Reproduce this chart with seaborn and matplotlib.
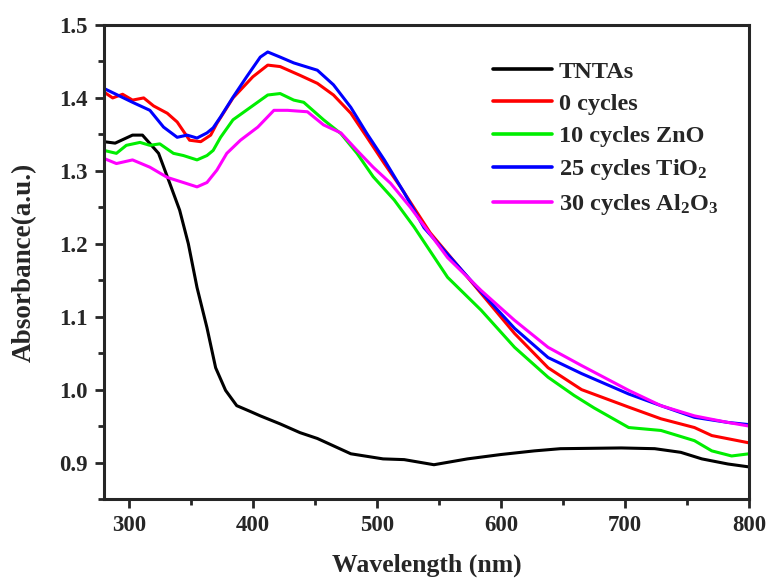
import numpy as np
import pandas as pd
import matplotlib
matplotlib.use("Agg")
import matplotlib.pyplot as plt
import seaborn as sns
from matplotlib.ticker import MultipleLocator

# ---- data ----
wl_tntas = [280, 289, 303, 311, 324, 333, 341, 348, 355, 363, 370, 378, 387, 398, 406, 422,
            438, 452, 479, 505, 522, 546, 573, 600, 627, 648, 697, 724, 745, 762, 783, 800]
abs_tntas = [1.340, 1.338, 1.349, 1.349, 1.324, 1.283, 1.246, 1.200, 1.140, 1.085, 1.030, 0.999,
             0.978, 0.970, 0.964, 0.953, 0.941, 0.933, 0.912, 0.905, 0.904, 0.897, 0.905, 0.911,
             0.916, 0.919, 0.920, 0.919, 0.914, 0.905, 0.898, 0.894]

wl_0 = [280, 287, 295, 303, 312, 320, 331, 339, 349, 358, 366, 371, 384, 400, 412, 422, 438,
        452, 465, 479, 492, 506, 519, 543, 584, 611, 638, 665, 703, 729, 756, 770, 800]
abs_0 = [1.408, 1.400, 1.405, 1.397, 1.400, 1.389, 1.379, 1.367, 1.342, 1.340, 1.349, 1.365,
         1.400, 1.429, 1.445, 1.443, 1.431, 1.420, 1.404, 1.379, 1.346, 1.310, 1.278, 1.215,
         1.132, 1.077, 1.030, 1.000, 0.976, 0.960, 0.948, 0.937, 0.927]

wl_zno = [280, 290, 298, 309, 317, 325, 336, 344, 355, 363, 368, 374, 384, 398, 412, 422, 433,
          441, 457, 471, 484, 497, 514, 530, 557, 584, 611, 638, 659, 675, 703, 729, 756, 770,
          786, 800]
abs_zno = [1.328, 1.324, 1.335, 1.339, 1.335, 1.337, 1.324, 1.321, 1.315, 1.321, 1.328, 1.346,
           1.370, 1.387, 1.404, 1.406, 1.397, 1.394, 1.370, 1.351, 1.324, 1.292, 1.260, 1.223,
           1.154, 1.109, 1.058, 1.017, 0.992, 0.975, 0.948, 0.944, 0.930, 0.916, 0.909, 0.912]

wl_tio2 = [280, 303, 317, 328, 339, 347, 355, 363, 368, 374, 384, 395, 406, 412, 422, 433, 452,
           465, 479, 492, 506, 522, 538, 584, 611, 638, 665, 703, 729, 756, 783, 800]
abs_tio2 = [1.413, 1.394, 1.383, 1.360, 1.346, 1.349, 1.345, 1.352, 1.359, 1.374, 1.401, 1.429,
            1.456, 1.463, 1.456, 1.448, 1.438, 1.418, 1.387, 1.351, 1.315, 1.270, 1.222, 1.134,
            1.084, 1.044, 1.022, 0.994, 0.978, 0.962, 0.955, 0.952]

wl_al2o3 = [280, 290, 303, 317, 331, 344, 355, 363, 371, 379, 390, 404, 417, 428, 444, 457, 471,
            484, 497, 511, 527, 557, 584, 611, 638, 665, 703, 729, 756, 783, 800]
abs_al2o3 = [1.317, 1.310, 1.315, 1.305, 1.291, 1.284, 1.278, 1.284, 1.301, 1.324, 1.342, 1.360,
             1.383, 1.383, 1.381, 1.363, 1.352, 1.328, 1.305, 1.283, 1.250, 1.181, 1.136, 1.095,
             1.058, 1.033, 0.999, 0.978, 0.964, 0.955, 0.950]

labels = ["TNTAs", "0 cycles", "10 cycles ZnO", r"25 cycles TiO$_2$", r"30 cycles Al$_2$O$_3$"]
colors = ["#000000", "#ff0000", "#00ee00", "#0000ff", "#ff00ff"]

xticks = [300, 400, 500, 600, 700, 800]
yticks = [0.9, 1.0, 1.1, 1.2, 1.3, 1.4, 1.5]

series = [(wl_tntas, abs_tntas), (wl_0, abs_0), (wl_zno, abs_zno),
          (wl_tio2, abs_tio2), (wl_al2o3, abs_al2o3)]
frames = []
for lab, (w, a) in zip(labels, series):
    frames.append(pd.DataFrame({"Wavelength": w, "Absorbance": a, "Sample": lab}))
df = pd.concat(frames, ignore_index=True)

# ---- style ----
sns.set_style("ticks")
plt.rcParams["font.family"] = ["Liberation Serif", "DejaVu Serif"]
plt.rcParams["font.weight"] = "bold"
plt.rcParams["mathtext.fontset"] = "custom"
plt.rcParams["mathtext.rm"] = "Liberation Serif:bold"
plt.rcParams["mathtext.it"] = "Liberation Serif:bold"
plt.rcParams["mathtext.bf"] = "Liberation Serif:bold"

fig = plt.figure(figsize=(7.67, 5.80), dpi=100)
ax = fig.add_axes([104 / 767, 1 - 499 / 580, (749 - 104) / 767, (499 - 25) / 580])

sns.lineplot(data=df, x="Wavelength", y="Absorbance", hue="Sample",
             hue_order=labels, palette=dict(zip(labels, colors)),
             sort=False, estimator=None, linewidth=2.2, ax=ax, legend=False)

ax.set_xlim(280, 800)
ax.set_ylim(0.85, 1.5)
ax.set_xticks(xticks)
ax.set_yticks(yticks)
ax.xaxis.set_minor_locator(MultipleLocator(50))
ax.yaxis.set_minor_locator(MultipleLocator(0.05))
ax.set_yticklabels([f"{v:.1f}" for v in yticks])
ax.tick_params(which="major", direction="out", length=6.5, width=2, labelsize=16.5, pad=5)
ax.tick_params(which="minor", direction="out", length=4, width=2)
for t in ax.get_xticklabels() + ax.get_yticklabels():
    t.set_fontweight("bold")
for s in ax.spines.values():
    s.set_linewidth(2.2)
    s.set_visible(True)

ax.set_xlabel("Wavelength (nm)", fontsize=18.5, fontweight="bold", labelpad=13)
ax.set_ylabel("Absorbance(a.u.)", fontsize=19.5, fontweight="bold", labelpad=16)

handles = [plt.Line2D([], [], color=c, lw=2.6) for c in colors]
leg = ax.legend(handles, labels, loc="upper left", bbox_to_anchor=(0.603, 0.925),
                frameon=False, handlelength=2.45, handletextpad=0.25,
                labelspacing=0.42, borderpad=0, borderaxespad=0,
                prop={"weight": "bold", "size": 17.5})

fig.savefig("out.png", dpi=100)
